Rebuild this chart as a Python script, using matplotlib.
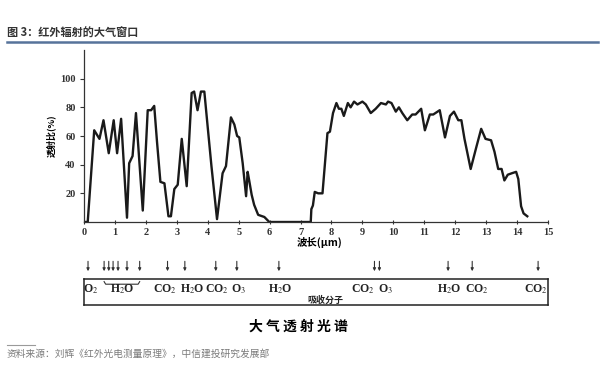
import numpy as np
import matplotlib.pyplot as plt

plt.rcParams['font.family'] = ['Liberation Serif', 'Noto Sans CJK SC', 'DejaVu Sans']
plt.rcParams['mathtext.fontset'] = 'stix'

# ---- data ----
wavelength = [0.0, 0.12, 0.33, 0.5, 0.63, 0.8, 0.96, 1.07, 1.2, 1.39, 1.46, 1.57,
              1.68, 1.9, 2.06, 2.17, 2.27, 2.36, 2.47, 2.6, 2.73, 2.81, 2.92, 3.03,
              3.16, 3.32, 3.48, 3.56, 3.67, 3.78, 3.89, 4.0, 4.12, 4.3, 4.48, 4.59,
              4.75, 4.86, 4.95, 5.02, 5.13, 5.24, 5.29, 5.34, 5.42, 5.5, 5.63, 5.83,
              5.99, 7.33,
              7.35, 7.4, 7.46, 7.57, 7.71, 7.87, 7.95, 8.05, 8.16, 8.24, 8.32, 8.4,
              8.53, 8.62, 8.73, 8.84, 9.0, 9.11, 9.27, 9.43, 9.6, 9.76, 9.83, 9.94,
              10.08, 10.18, 10.29, 10.45, 10.61, 10.72, 10.9, 11.02, 11.18, 11.29,
              11.5, 11.67, 11.83, 11.96, 12.1, 12.2, 12.3, 12.5, 12.68, 12.84, 12.98,
              13.16, 13.27, 13.39, 13.5, 13.59, 13.7, 13.83, 13.97, 14.04, 14.13,
              14.21, 14.33]
transmit = [0, 0, 64, 58, 71, 48, 71, 48, 72, 3, 41, 46,
            76, 8, 78, 78, 81, 56, 28, 27, 4, 4, 23, 26,
            58, 25, 90, 91, 78, 91, 91, 66, 39, 2, 34, 39,
            73, 68, 60, 59, 41, 18, 35, 29, 19, 12, 5, 3.5,
            0, 0,
            9, 11.5, 21, 20, 20, 62, 63, 76, 83, 79, 79, 74,
            83, 80, 84, 82, 84, 82, 76, 79, 83, 82, 84, 83,
            77, 80, 76, 71, 75, 75, 79, 64, 75, 75,
            78, 59, 74, 77, 71, 71, 58, 37, 52, 65, 58,
            57, 49, 37, 37, 29, 33, 34, 35, 30, 11,
            6, 4]

arrow_pos = [0.13, 0.65, 0.8, 0.94, 1.1, 1.39, 1.8, 2.7, 3.26, 4.26, 4.94, 6.3,
             9.39, 9.55, 11.77, 12.55, 14.68]
mol_labels = ['O$_2$', 'H$_2$O', 'CO$_2$', 'H$_2$O', 'CO$_2$', 'O$_3$', 'H$_2$O',
              'CO$_2$', 'O$_3$', 'H$_2$O', 'CO$_2$', 'CO$_2$']
mol_pos = [0.2, 1.23, 2.6, 3.5, 4.3, 5.0, 6.35, 9.0, 9.74, 11.8, 12.7, 14.6]

CJK = ['Noto Sans CJK SC', 'DejaVu Sans']
W, H = 605, 375
fig = plt.figure(figsize=(6.05, 3.75), dpi=100)

# header
fig.text(7 / W, 1 - 33 / H, '图 3：红外辐射的大气窗口', fontsize=8, fontweight='bold',
         color='#333333', family=CJK, va='center')
fig.add_artist(plt.Line2D([7 / W, 598 / W], [1 - 42 / H, 1 - 42 / H],
                          color='#56739a', lw=1.8))

# main spectrum
ax = fig.add_axes([84 / W, 1 - 222 / H, (548 - 84) / W, (222 - 50) / H])
ax.plot(wavelength, transmit, color='#1a1a1a', lw=1.7, solid_joinstyle='round')
ax.set_xlim(0, 15)
ax.set_ylim(0, 120)
ax.set_xticks(range(16))
ax.set_yticks([20, 40, 60, 80, 100])
for s in ['top', 'right']:
    ax.spines[s].set_visible(False)
for s in ['left', 'bottom']:
    ax.spines[s].set_linewidth(0.9)
    ax.spines[s].set_color('#333333')
ax.tick_params(axis='x', direction='inout', length=2.5, width=0.8, labelsize=7.5,
               pad=3, colors='#333333')
ax.tick_params(axis='y', direction='out', length=3, width=0.8, labelsize=7.5,
               pad=3, colors='#333333')
for lab in ax.get_xticklabels() + ax.get_yticklabels():
    lab.set_fontweight('bold')
ax.set_ylabel('透射比(%)', fontsize=6.5, fontweight='bold', family=CJK)
ax.yaxis.set_label_coords(-0.06, 0.5)
ax.text(7.6, -14, '波长(μm)', fontsize=7.5, fontweight='bold', ha='center', va='center',
        family=CJK)

# absorber box
bx = fig.add_axes([84 / W, 1 - 305 / H, (548 - 84) / W, 26 / H])
bx.set_xlim(0, 15)
bx.set_ylim(0, 1)
bx.set_xticks([])
bx.set_yticks([])
for s in bx.spines.values():
    s.set_linewidth(1.1)
    s.set_color('#222222')
for xp in arrow_pos:
    bx.annotate('', xy=(xp, 1.3), xytext=(xp, 1.68), xycoords='data',
                annotation_clip=False,
                arrowprops=dict(arrowstyle='-|>', color='#333333', lw=0.8,
                                mutation_scale=4, shrinkA=0, shrinkB=0))
for lab, xp in zip(mol_labels, mol_pos):
    bx.text(xp, 0.6, lab, fontsize=8.5, fontweight='bold', ha='center', va='center',
            color='#222222')
# brace under the H2O arrows
bx.plot([0.65, 0.7, 1.75, 1.8], [0.9, 0.8, 0.8, 0.9], color='#333333', lw=0.8)
bx.text(7.8, 0.2, '吸收分子', fontsize=6.5, fontweight='bold', ha='center', va='center',
        family=CJK, color='#222222')

fig.text(298 / W, 1 - 327 / H, '大 气 透 射 光 谱', fontsize=10, fontweight='bold',
         ha='center', va='center', family=CJK)

# source note
fig.add_artist(plt.Line2D([7 / W, 35 / W], [1 - 345 / H, 1 - 345 / H],
                          color='#9a9a9a', lw=0.8))
fig.text(7 / W, 1 - 354 / H, '资料来源：刘辉《红外光电测量原理》，中信建投研究发展部',
         fontsize=7, color='#7a7a7a', va='center', family=CJK)

fig.savefig('out.png', dpi=100)
